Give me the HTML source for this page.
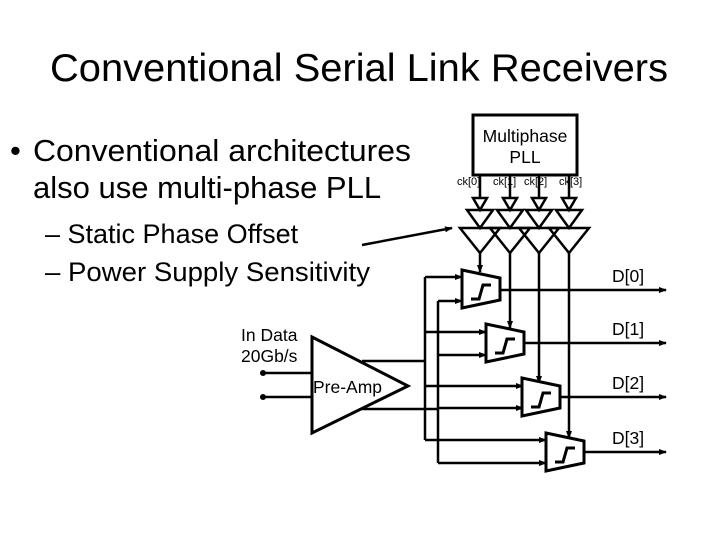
<!DOCTYPE html>
<html><head><style>
body{margin:0;background:#fff;}
svg{display:block;font-family:"Liberation Sans",sans-serif;}
</style></head><body>
<svg width="720" height="540" viewBox="0 0 720 540" xmlns="http://www.w3.org/2000/svg">
<defs>
<marker id="a" markerWidth="8" markerHeight="6" refX="7" refY="3" orient="auto" markerUnits="userSpaceOnUse"><path d="M0,0 L8,3 L0,6z" fill="#000"/></marker>
<g id="cmp"><path d="M0,0 L38,8 L38,30 L0,38z" fill="#fff" stroke="#000" stroke-width="3"/><path d="M9,29 L17,29 L21,15 L29,15" fill="none" stroke="#000" stroke-width="3"/></g>
</defs>
<text x="359" y="81" font-size="39" text-anchor="middle" textLength="618" lengthAdjust="spacingAndGlyphs">Conventional Serial Link Receivers</text>
<text x="10" y="161" font-size="31">•</text>
<text x="33" y="161" font-size="31" textLength="378" lengthAdjust="spacingAndGlyphs">Conventional architectures</text>
<text x="33" y="198" font-size="31">also use multi-phase PLL</text>
<text x="45" y="243" font-size="27">– Static Phase Offset</text>
<text x="45" y="281" font-size="27" textLength="325" lengthAdjust="spacingAndGlyphs">– Power Supply Sensitivity</text>
<line x1="362" y1="245" x2="452" y2="228" stroke="#000" stroke-width="2.5" marker-end="url(#a)"/>
<rect x="473" y="115" width="104" height="60" fill="#fff" stroke="#000" stroke-width="3"/>
<text x="525" y="142" font-size="17.5" text-anchor="middle">Multiphase</text>
<text x="525" y="163" font-size="17.5" text-anchor="middle">PLL</text>
<g font-size="11"><text x="457" y="185">ck[0]</text><text x="493" y="185">ck[1]</text><text x="524" y="185">ck[2]</text><text x="559" y="185">ck[3]</text></g>
<g stroke="#000" stroke-width="2.5" fill="none">
<g id="clk"><line x1="480" y1="175" x2="480" y2="198"/><path d="M473,198 L487,198 L480,210z"/><path d="M467,210 L493,210 L480,228z"/><path d="M460,228 L500,228 L480,253z"/></g>
<use href="#clk" x="30"/><use href="#clk" x="59"/><use href="#clk" x="89"/>
<line x1="480" y1="253" x2="480" y2="272" marker-end="url(#a)"/>
<line x1="510" y1="253" x2="510" y2="328" marker-end="url(#a)"/>
<line x1="539" y1="253" x2="539" y2="383" marker-end="url(#a)"/>
<line x1="569" y1="253" x2="569" y2="438" marker-end="url(#a)"/>
<path d="M312,337 L408,386 L312,433z" stroke-width="3"/>
<line x1="263" y1="373" x2="312" y2="373"/><line x1="263" y1="397" x2="312" y2="397"/>
<polyline points="362,361 425,361"/><polyline points="362,409 438,409"/>
<line x1="425" y1="277" x2="425" y2="440"/><line x1="438" y1="301" x2="438" y2="463"/>
<line x1="425" y1="277" x2="462" y2="277" marker-end="url(#a)"/>
<line x1="438" y1="301" x2="462" y2="301" marker-end="url(#a)"/>
<line x1="425" y1="332" x2="486" y2="332" marker-end="url(#a)"/>
<line x1="438" y1="355" x2="486" y2="355" marker-end="url(#a)"/>
<line x1="425" y1="386" x2="523" y2="386" marker-end="url(#a)"/>
<line x1="438" y1="408" x2="523" y2="408" marker-end="url(#a)"/>
<line x1="425" y1="440" x2="546" y2="440" marker-end="url(#a)"/>
<line x1="438" y1="463" x2="546" y2="463" marker-end="url(#a)"/>
<line x1="500" y1="290" x2="666" y2="290" marker-end="url(#a)"/>
<line x1="523" y1="343" x2="666" y2="343" marker-end="url(#a)"/>
<line x1="559" y1="397" x2="666" y2="397" marker-end="url(#a)"/>
<line x1="583" y1="452" x2="666" y2="452" marker-end="url(#a)"/>
</g>
<circle cx="263" cy="373" r="3"/><circle cx="263" cy="397" r="3"/>
<use href="#cmp" x="462" y="270"/><use href="#cmp" x="486" y="324"/><use href="#cmp" x="522" y="378"/><use href="#cmp" x="546" y="433"/>
<g font-size="17.5"><text x="612" y="282">D[0]</text><text x="612" y="335">D[1]</text><text x="612" y="389">D[2]</text><text x="612" y="444">D[3]</text>
<text x="241" y="341">In Data</text><text x="241" y="362">20Gb/s</text><text x="313" y="393">Pre-Amp</text></g>
</svg>
</body></html>
